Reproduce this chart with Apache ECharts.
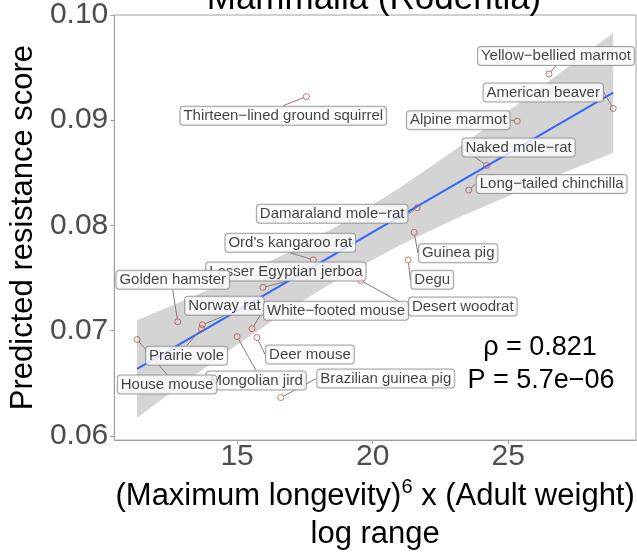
<!DOCTYPE html>
<html>
<head>
<meta charset="utf-8">
<script src="https://cdn.jsdelivr.net/npm/echarts@6/dist/echarts.min.js"></script>
<style>html,body{margin:0;padding:0;background:#fff;}#c{width:637px;height:558px;}</style>
</head>
<body>
<div id="c"></div>
<script>
// ---- data ----
var species = ["Yellow\u2212bellied marmot","American beaver","Alpine marmot","Thirteen\u2212lined ground squirrel","Naked mole\u2212rat","Long\u2212tailed chinchilla","Damaraland mole\u2212rat","Guinea pig","Degu","Desert woodrat","Ord's kangaroo rat","Lesser Egyptian jerboa","Golden hamster","Norway rat","Prairie vole","White\u2212footed mouse","Deer mouse","Mongolian jird","House mouse","Brazilian guinea pig"];
var logRange = [26.50, 28.87, 25.33, 17.55, 24.20, 23.54, 21.64, 21.53, 21.31, 19.56, 17.81, 15.95, 12.81, 13.72, 13.69, 15.55, 15.73, 15.00, 11.31, 16.61];
var resistance = [0.09439, 0.09112, 0.08991, 0.09224, 0.08570, 0.08336, 0.08168, 0.07935, 0.07673, 0.07477, 0.07673, 0.07411, 0.07084, 0.07056, 0.07019, 0.07019, 0.06935, 0.06944, 0.06916, 0.06364];
var fitX = [11.31, 28.87];
var fitY = [0.06636, 0.09262];
var bandX = [11.31, 13, 15, 17, 19, 21, 23, 25, 27, 28.87];
var bandUpper = [0.07100, 0.07283, 0.07510, 0.07758, 0.08038, 0.08359, 0.08712, 0.09085, 0.09468, 0.09832];
var bandLower = [0.06172, 0.06495, 0.06866, 0.07216, 0.07534, 0.07811, 0.08056, 0.08281, 0.08496, 0.08692];
var xTicks = [15, 20, 25];
var yTicks = [0.06, 0.07, 0.08, 0.09, 0.10];
var titleText = "Mammalia (Rodentia)";
var statText = ["\u03c1 = 0.821", "P = 5.7e\u221206"];

// ---- label placement (styles) ----
var labelOffsets = [[7,-18],[-70,-16],[-59,-1],[-23,19],[32,-18],[83,-6],[-85,6],[44,21],[24,20],[102,26],[-23,-17],[23,-16],[-5,-42],[22,-19],[-15,27],[84,-18],[53,17],[19,44],[30,45],[105,-19]];

var FONT = "'Liberation Sans', Arial, Helvetica, sans-serif";
var chart = echarts.init(document.getElementById('c'));

var pts = species.map(function(n, i){ return {name: n, value: [logRange[i], resistance[i]]}; });
var band = bandX.map(function(x, i){ return [x, bandLower[i], bandUpper[i]]; });

chart.setOption({
  animation: false,
  backgroundColor: '#fff',
  grid: {left: 109, right: 1, top: 14, bottom: 112, show: true, borderColor: '#a0a0a0', borderWidth: 1},
  xAxis: {
    type: 'value', min: 10.47, max: 29.71,
    axisLine: {show: true, lineStyle: {color: '#a0a0a0'}},
    axisTick: {show: true, length: 4, lineStyle: {color: '#a0a0a0'}, customValues: xTicks},
    axisLabel: {customValues: xTicks, color: '#4D4D4D', fontSize: 30, fontFamily: FONT, margin: 2},
    splitLine: {show: false},
    name: '(Maximum longevity){sup|6} x (Adult weight)\nlog range',
    nameLocation: 'middle', nameGap: 30,
    nameTextStyle: {color: '#000', fontSize: 31, fontFamily: FONT, lineHeight: 38,
      rich: {sup: {fontSize: 20, verticalAlign: 'top', lineHeight: 38, color: '#000', fontFamily: FONT, padding: [0,0,14,0]}}}
  },
  yAxis: {
    type: 'value', min: 0.0596, max: 0.10,
    axisLine: {show: true, lineStyle: {color: '#a0a0a0'}},
    axisTick: {show: true, length: 4, lineStyle: {color: '#a0a0a0'}, customValues: yTicks},
    axisLabel: {customValues: yTicks, color: '#4D4D4D', fontSize: 30, fontFamily: FONT, margin: 6,
      formatter: function(v){ return v.toFixed(2); }},
    splitLine: {show: false},
    name: 'Predicted resistance score',
    nameLocation: 'middle', nameGap: 60,
    nameTextStyle: {color: '#000', fontSize: 31, fontFamily: FONT}
  },
  graphic: [
    {type: 'text', x: 374, y: 17, z: 100, style: {text: titleText, fill: '#000', font: '35px ' + FONT, textAlign: 'center', textVerticalAlign: 'bottom'}},
    {type: 'text', x: 540, y: 348, z: 100, style: {text: statText[0], fill: '#000', font: '27px ' + FONT, textAlign: 'center', textVerticalAlign: 'middle'}},
    {type: 'text', x: 541, y: 381, z: 100, style: {text: statText[1], fill: '#000', font: '27px ' + FONT, textAlign: 'center', textVerticalAlign: 'middle'}}
  ],
  series: [
    {
      type: 'custom', z: 1, silent: true,
      data: band,
      renderItem: function(params, api){
        if (params.dataIndex !== 0) return;
        var up = [], lo = [];
        for (var i = 0; i < band.length; i++) {
          up.push(api.coord([band[i][0], band[i][2]]));
          lo.unshift(api.coord([band[i][0], band[i][1]]));
        }
        return {type: 'polygon', shape: {points: up.concat(lo), smooth: 0}, style: {fill: 'rgba(153,153,153,0.42)'}};
      }
    },
    {
      type: 'line', z: 2, symbol: 'none', silent: true,
      data: fitX.map(function(x, i){ return [x, fitY[i]]; }),
      lineStyle: {color: '#3366FF', width: 2}
    },
    {
      type: 'scatter', z: 3,
      data: pts,
      symbol: 'circle', symbolSize: 6,
      itemStyle: {color: 'rgba(0,0,0,0)', borderColor: '#B5584C', borderWidth: 1},
      label: {
        show: true, position: 'inside', formatter: '{b}',
        color: '#111', fontSize: 15, fontFamily: FONT,
        backgroundColor: '#fff', borderColor: '#8a8a8a', borderWidth: 1, borderRadius: 3,
        padding: [2, 3, 1, 3]
      },
      labelLine: {show: true, lineStyle: {color: '#8a7a7a', width: 1}},
      labelLayout: function(p){ var o = labelOffsets[p.dataIndex]; return {dx: o[0], dy: o[1]}; }
    }
  ]
});
</script>
</body>
</html>
